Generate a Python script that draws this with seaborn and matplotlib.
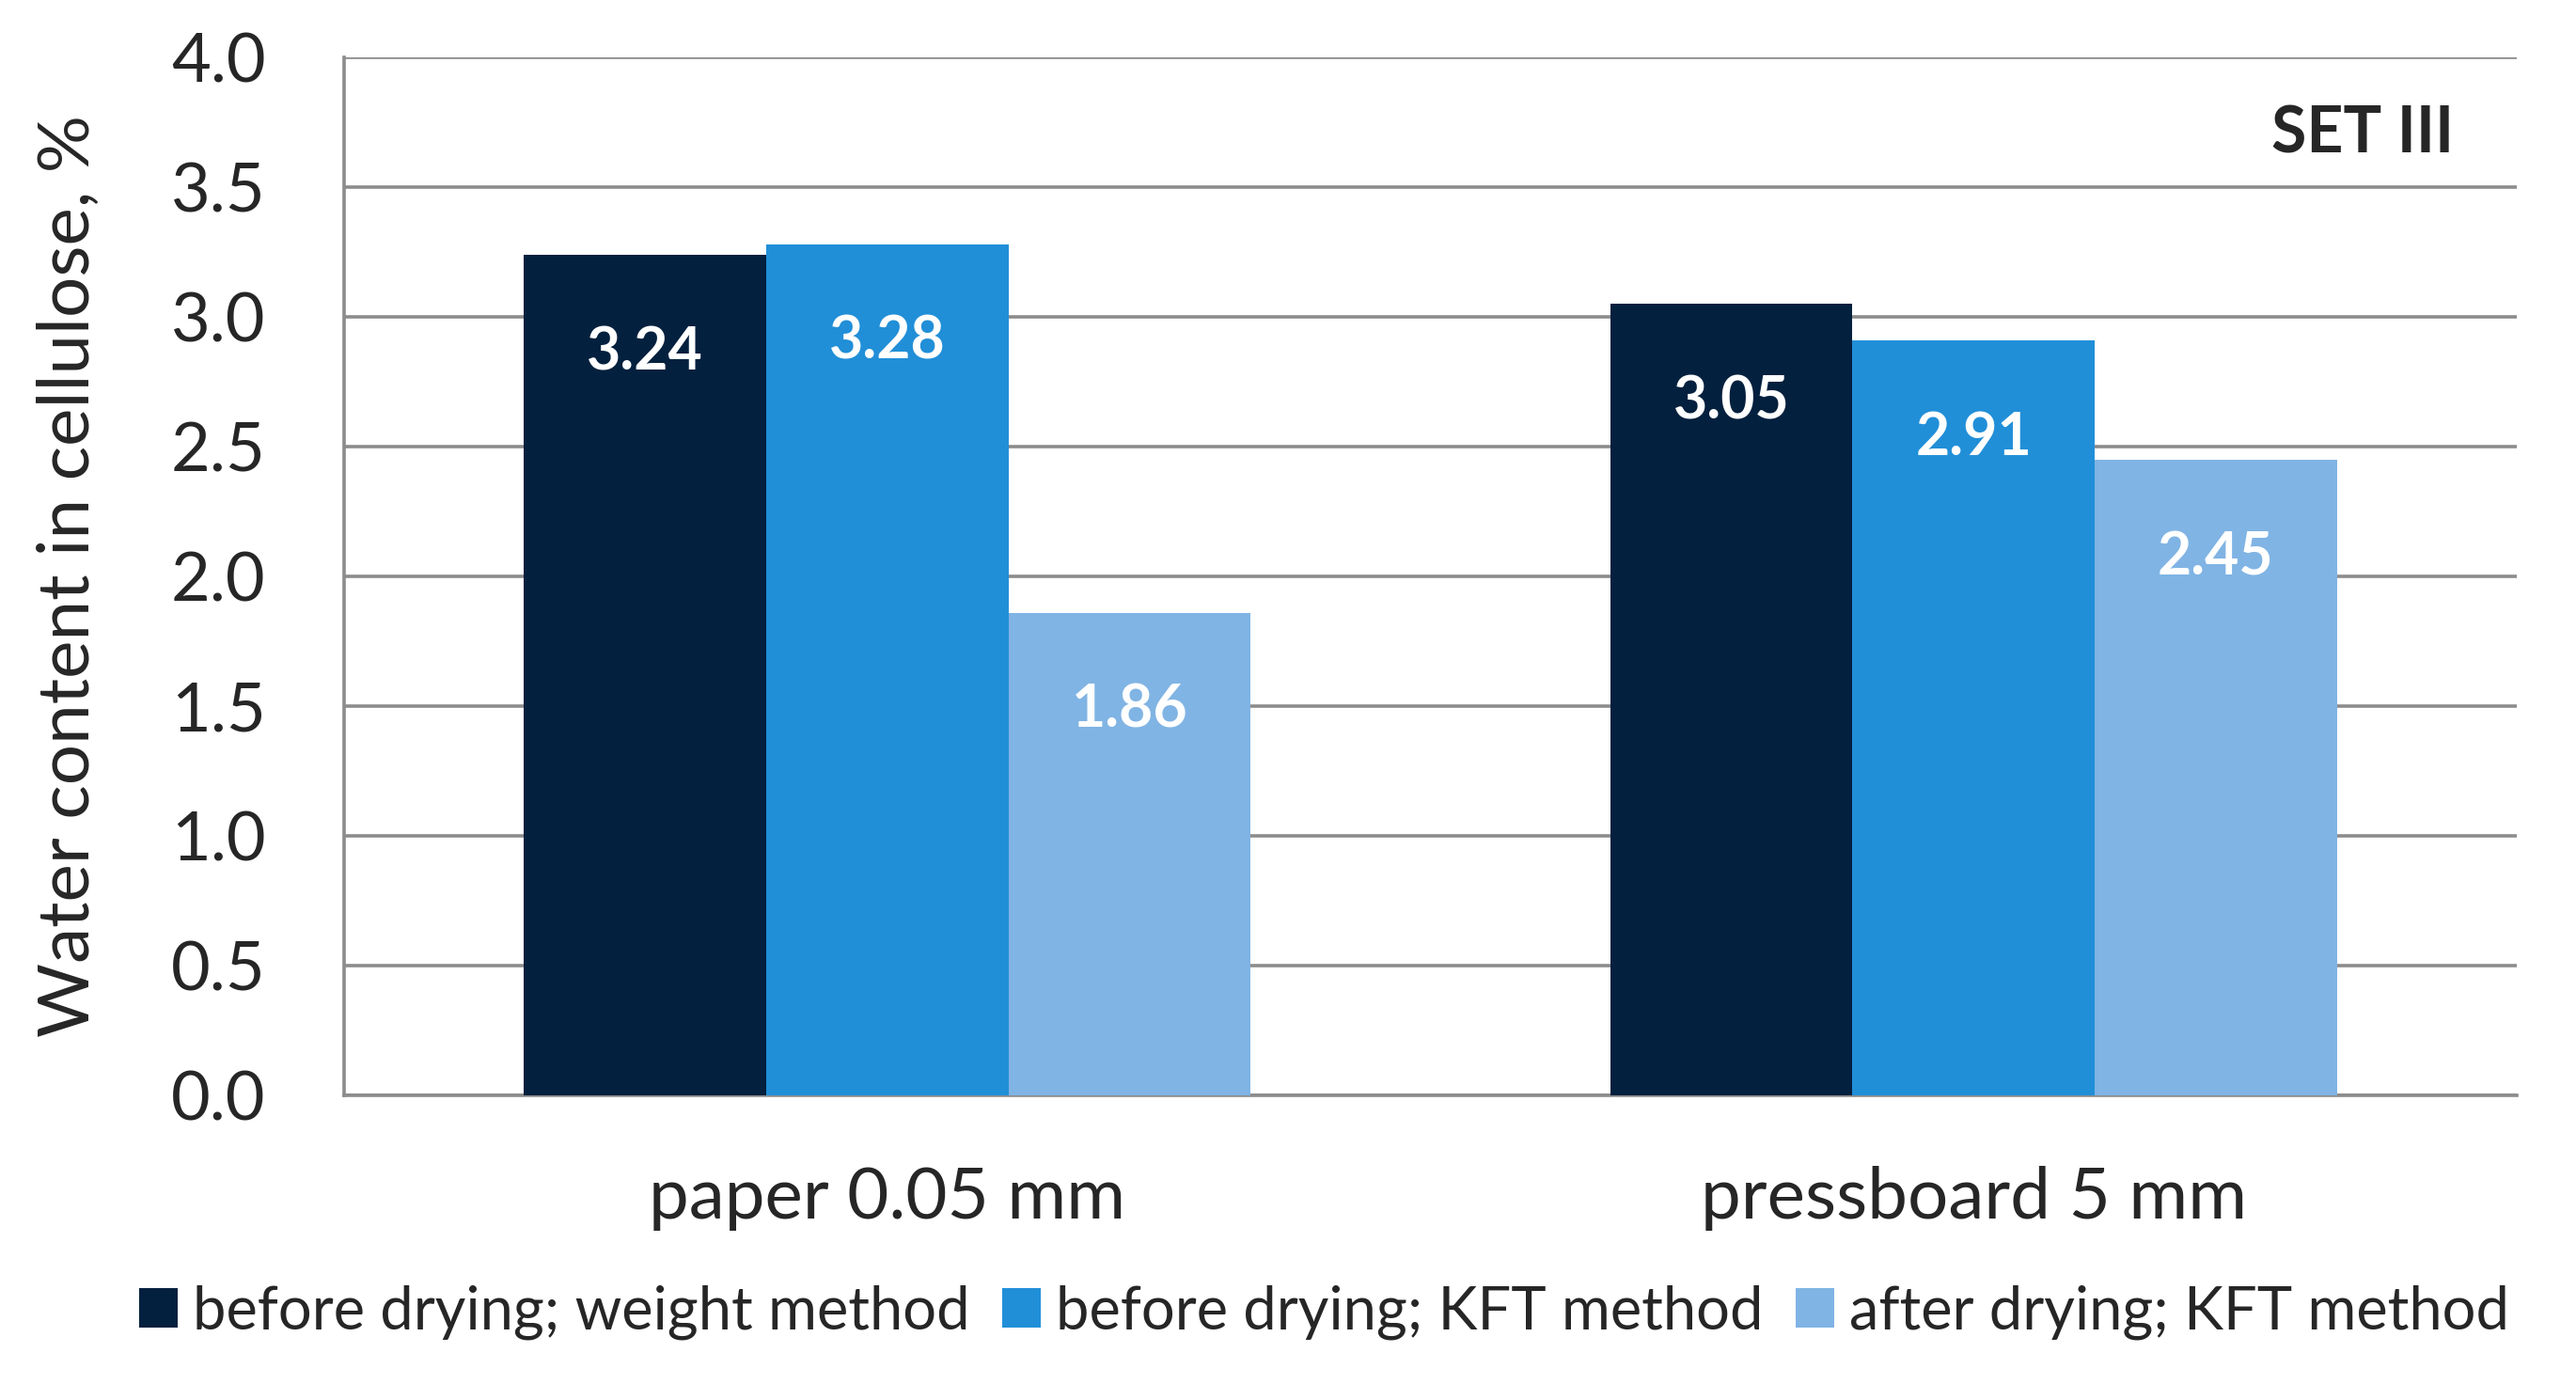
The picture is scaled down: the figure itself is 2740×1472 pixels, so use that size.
import matplotlib
matplotlib.use("Agg")
import matplotlib.pyplot as plt
import seaborn as sns
import pandas as pd
from matplotlib.ticker import MultipleLocator, FixedLocator

# chart data
categories = ["paper 0.05 mm", "pressboard 5 mm"]
series = ["before drying; weight method", "before drying; KFT method", "after drying; KFT method"]
weight_before = [3.24, 3.05]
kft_before = [3.28, 2.91]
kft_after = [1.86, 2.45]
colors = ["#03203E", "#218FD8", "#80B4E4"]

df = pd.DataFrame({
    "category": categories * 3,
    "series": [series[0]] * 2 + [series[1]] * 2 + [series[2]] * 2,
    "value": weight_before + kft_before + kft_after,
})

sns.set_style("white")
plt.rcParams["font.family"] = ["Lato", "DejaVu Sans"]

grid_col = "#8C8C8C"

fig = plt.figure(figsize=(27.4, 14.72), dpi=100)
ax = fig.add_axes([0.1336, 0.2086, 0.977 - 0.1336, 0.9586 - 0.2086])

sns.barplot(data=df, x="category", y="value", hue="series", hue_order=series,
            palette=colors, width=0.669, gap=0, saturation=1, ax=ax,
            legend=True, errorbar=None, linewidth=0, zorder=3)

ax.set_ylim(0, 4.0)
ax.set_xlim(-0.5, 1.5)
ax.yaxis.set_major_locator(MultipleLocator(0.5))
ax.set_yticklabels([f"{v:.1f}" for v in ax.get_yticks()])
ax.grid(axis="y", color=grid_col, linewidth=2.6, zorder=0)
ax.set_axisbelow(True)

for s in ["top", "right"]:
    ax.spines[s].set_visible(False)
for s in ["left", "bottom"]:
    ax.spines[s].set_color(grid_col)
    ax.spines[s].set_linewidth(2.6)

ax.tick_params(axis="y", length=20, width=2.6, color=grid_col, pad=40, labelsize=52)
ax.tick_params(axis="x", which="major", length=0, pad=54, labelsize=55)
ax.xaxis.set_minor_locator(FixedLocator([-0.5, 0.5, 1.5]))
ax.tick_params(axis="x", which="minor", length=20, width=2.6, color=grid_col)

ax.set_xlabel("")
ax.set_ylabel("Water content in cellulose, %", fontsize=55)
ax.yaxis.set_label_coords(-0.112, 0.5)

for cont in ax.containers:
    ax.bar_label(cont, fmt="%.2f", padding=-96, color="white",
                 fontsize=45, fontweight="bold")

ax.text(0.971, 0.926, "SET III", transform=ax.transAxes, ha="right", va="center",
        fontsize=49, fontweight="bold")

handles, labels = ax.get_legend_handles_labels()
ax.get_legend().remove()
fig.legend(handles, labels, loc="center", bbox_to_anchor=(0.514, 0.052), ncol=3,
           frameon=False, fontsize=45.5, handlelength=0.65, handleheight=0.65,
           handletextpad=0.25, columnspacing=0.55)

fig.savefig("out.png", dpi=100)
